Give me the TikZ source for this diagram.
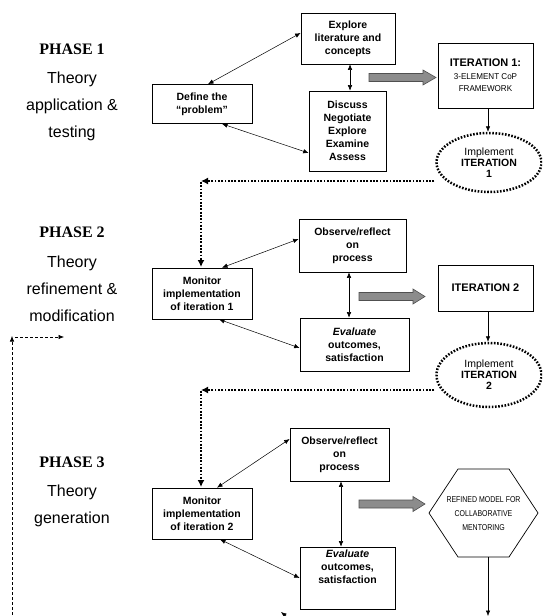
\documentclass[tikz,border=0pt]{standalone}
\usepackage{fontspec}
\setmainfont{Liberation Sans}
\newfontfamily\phasefont{Liberation Serif}
\newfontfamily\condfont[FakeStretch=0.82]{Liberation Sans}
\newfontfamily\narrowfont[FakeStretch=0.95]{Liberation Sans}
\usetikzlibrary{arrows.meta,shapes.geometric}
\definecolor{arrgray}{RGB}{140,140,140}
\definecolor{arredge}{RGB}{80,80,80}
\tikzset{
 box/.style={draw, line width=0.7pt, inner sep=0pt, align=center, font=\fontsize{10.5}{13}\selectfont\bfseries},
 bi/.style={{Latex[length=5.5pt,width=4.5pt]}-{Latex[length=5.5pt,width=4.5pt]}, line width=0.5pt},
 one/.style={-{Latex[length=5.5pt,width=4.5pt]}, line width=0.5pt},
 dotln/.style={line width=2.8pt, dash pattern=on 1.8pt off 1.5pt, -{Latex[length=7pt,width=7pt]}},
 ell/.style={ellipse, draw, line width=2.5pt, dash pattern=on 1.6pt off 1.6pt, inner sep=0pt, align=center, font=\fontsize{10.5}{11}\selectfont},
 phase/.style={font=\phasefont\bfseries\fontsize{16}{16}\selectfont},
 ptext/.style={font=\fontsize{16}{27}\selectfont, align=center},
 dashln/.style={dash pattern=on 3pt off 2pt, line width=0.6pt, -{Latex[length=5.5pt,width=4.5pt]}},
 blockarr/.style={fill=arrgray, draw=arredge, line width=0.6pt},
 cond/.style={font=\condfont\fontsize{8.5}{14}\selectfont, align=center}
}
\begin{document}
\begin{tikzpicture}[x=1pt,y=-1pt]
\useasboundingbox (0,0) rectangle (542,616);
\clip (0,0) rectangle (542,616);

% phase labels
\node[phase] (ph1) at (72,49) {PHASE 1};
\node[ptext] (ph1t) at (72,106) {Theory\\application \&\\testing};
\node[phase] (ph2) at (72,232) {PHASE 2};
\node[ptext] (ph2t) at (72,289) {Theory\\refinement \&\\modification};
\node[phase] (ph3) at (72,462) {PHASE 3};
\node[ptext] (ph3t) at (72,505.5) {Theory\\generation};

% phase 1
\node[box, minimum width=100pt, minimum height=39pt] (define) at (202,104) {Define the\\``problem''};
\node[box, minimum width=94pt, minimum height=51pt] (explore) at (348,38.5) {Explore\\literature and\\concepts};
\node[box, minimum width=77pt, minimum height=80pt] (discuss) at (347.5,131) {Discuss\\Negotiate\\Explore\\Examine\\Assess};
\node[draw, line width=0.7pt, inner sep=0pt, minimum width=95pt, minimum height=65pt, align=center] (it1) at (485.5,75.5)
  {\fontsize{11}{13}\selectfont\bfseries ITERATION 1:\\[1pt]{\narrowfont\fontsize{8.5}{13.5}\selectfont 3-ELEMENT CoP}\\{\narrowfont\fontsize{8.5}{13.5}\selectfont FRAMEWORK}};
\node[ell, minimum width=105pt, minimum height=59pt] (ell1) at (489,162.5) {Implement\\\textbf{ITERATION}\\\textbf{1}};

\draw[bi] ([xshift=6pt]define.north) -- ([yshift=5.5pt]explore.west);
\draw[bi] ([xshift=20pt]define.south) -- ([yshift=-22pt]discuss.west);
\draw[bi] ([xshift=2pt]explore.south) -- ([xshift=2pt]explore.south |- discuss.north);
\draw[one] ([xshift=2.5pt]it1.south) -- ([xshift=2.5pt]it1.south |- ell1.north);
\draw[blockarr] (369,73.5) -- (423,73.5) -- (423,70) -- (436,77.5) -- (423,85) -- (423,81.5) -- (369,81.5) -- cycle;

\coordinate (c1) at (201,181);
\draw[dotln] ([xshift=-1pt]ell1.west |- c1) -- (c1);
\draw[dotln] ([yshift=-1pt]c1) -- (c1 |- 0,267);

% phase 2
\node[box, minimum width=100pt, minimum height=51pt] (mon1) at (202,293.5) {Monitor\\implementation\\of iteration 1};
\node[box, minimum width=107pt, minimum height=53pt] (obs1) at (352.5,245.5) {Observe/reflect\\on\\process};
\node[box, minimum width=109pt, minimum height=53pt] (eva1) at (354.5,344.5) {\textit{Evaluate}\\outcomes,\\satisfaction};
\node[box, minimum width=95pt, minimum height=46pt, font=\fontsize{11}{13}\selectfont\bfseries] (it2) at (485.5,288) {ITERATION 2};
\node[ell, minimum width=105pt, minimum height=64pt] (ell2) at (489,375) {Implement\\\textbf{ITERATION}\\\textbf{2}};

\draw[bi] ([xshift=20pt]mon1.north) -- ([yshift=6.5pt]obs1.west);
\draw[bi] ([xshift=17pt]mon1.south) -- ([yshift=-3.5pt]eva1.west);
\draw[bi] ([xshift=-3.5pt]obs1.south) -- ([xshift=-3.5pt]obs1.south |- eva1.north);
\draw[one] ([xshift=2.5pt]it2.south) -- ([xshift=2.5pt]it2.south |- ell2.north);
\draw[blockarr] (359,292.5) -- (413,292.5) -- (413,289) -- (425,296.5) -- (413,304) -- (413,300.5) -- (359,300.5) -- cycle;

\coordinate (c2) at (201,390);
\draw[dotln] ([xshift=-1pt]ell2.west |- c2) -- (c2);
\draw[dotln] ([yshift=-1pt]c2) -- (c2 |- 0,487);

% phase 3
\node[box, minimum width=100pt, minimum height=51pt] (mon2) at (202,513.5) {Monitor\\implementation\\of iteration 2};
\node[box, minimum width=99pt, minimum height=53pt] (obs2) at (339.5,454.5) {Observe/reflect\\on\\process};
\node[box, minimum width=95pt, minimum height=62pt] (eva2) at (347.5,578) {\textit{Evaluate}\\outcomes,\\satisfaction\\[10pt]};
\draw[line width=0.7pt] (429,513) -- (458,469) -- (509,469) -- (538,513) -- (509,557) -- (458,557) -- cycle;
\node[cond] (hex) at (483.5,514) {REFINED MODEL FOR\\COLLABORATIVE\\MENTORING};

\draw[bi] ([xshift=15pt]mon2.north) -- ([yshift=15.5pt]obs2.west);
\draw[bi] ([xshift=18pt]mon2.south) -- (eva2.west);
\draw[bi] ([xshift=1.5pt]obs2.south) -- ([xshift=1.5pt]obs2.south |- eva2.north);
\draw[blockarr] (359,500) -- (413,500) -- (413,496.5) -- (425,504) -- (413,511.5) -- (413,508) -- (359,508) -- cycle;

\coordinate (hb) at (488,557);
\coordinate (hz) at (488,616);
\draw[one] (hb) -- (hz);

% partial arrow at bottom
\coordinate (pa0) at (296,624);
\coordinate (pa1) at (281,612);
\draw[one] (pa0) -- (pa1);

% dashed feedback
\coordinate (d0) at (12,620);
\coordinate (d1) at (12,336);
\coordinate (d2) at (15,337);
\coordinate (d3) at (64,337);
\draw[dashln] (d0) -- (d1);
\draw[dashln] (d2) -- (d3);
\end{tikzpicture}
\end{document}
